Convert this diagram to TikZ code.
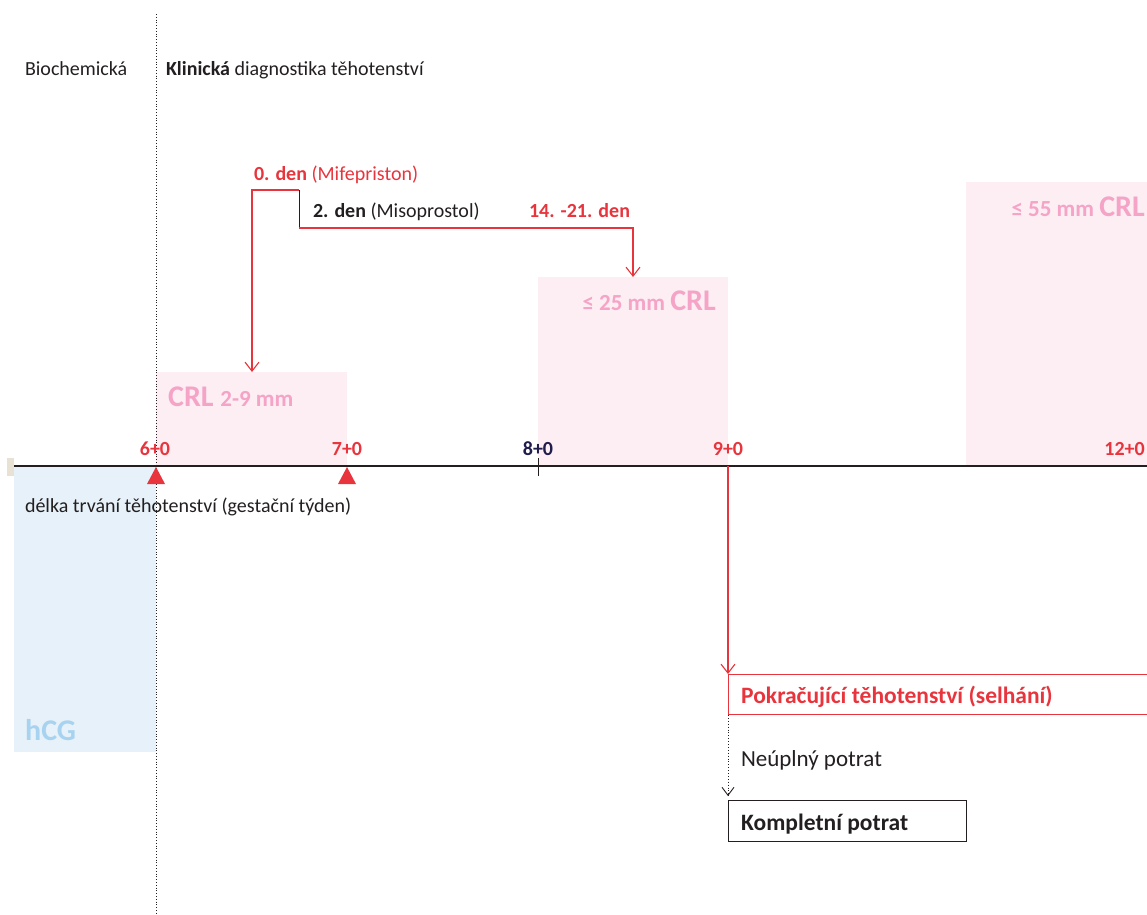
\documentclass[tikz,border=0pt]{standalone}
\usepackage{fontspec}
\setmainfont{Carlito}
\usetikzlibrary{arrows.meta,positioning}
\definecolor{myred}{HTML}{E8343C}
\definecolor{mypink}{HTML}{F5A3C7}
\definecolor{pinkfill}{HTML}{FCEEF3}
\definecolor{bluefill}{HTML}{E6F1F9}
\definecolor{bluetext}{HTML}{A8D3F0}
\definecolor{navy}{HTML}{201C4C}
\definecolor{beige}{HTML}{E8E2D4}
\definecolor{txt}{HTML}{231F20}
\begin{document}
\begin{tikzpicture}[x=1pt,y=-1pt,
  lbl/.style={inner sep=0pt,outer sep=0pt,text=txt,font=\fontsize{20}{24}\selectfont},
  tick/.style={inner sep=0pt,font=\fontsize{20}{24}\selectfont\bfseries,text=myred,anchor=base},
  zone/.style={fill=pinkfill,draw=none},
  crl/.style={inner sep=0pt,text=mypink,font=\bfseries},
  rarrow/.style={draw=myred,line width=1.1pt,-{Straight Barb[length=9pt,width=14pt,line width=1.1pt]}},
  tri/.style={fill=myred,draw=none}]
\useasboundingbox (0,0) rectangle (1147,914);
% zones
\fill[bluefill] (14,466) rectangle (156,752);
\node[zone,minimum width=191pt,minimum height=94pt,anchor=north west,inner sep=0pt] (crl1) at (156,372) {};
\node[zone,minimum width=190pt,minimum height=189pt,anchor=north west,inner sep=0pt] (crl2) at (538,277) {};
\node[zone,minimum width=181pt,minimum height=284pt,anchor=north west,inner sep=0pt] (crl3) at (966,182) {};
\node[crl,anchor=base west] (crl1t) at (168,406) {\fontsize{30}{34}\selectfont CRL \fontsize{23}{26}\selectfont 2-9 mm};
\node[crl,anchor=base east] (crl2t) at (716,310) {\fontsize{23}{26}\selectfont ≤ 25 mm \fontsize{30}{34}\selectfont CRL};
\node[crl,anchor=base east] (crl3t) at (1145,216) {\fontsize{23}{26}\selectfont ≤ 55 mm \fontsize{30}{34}\selectfont CRL};
\node[inner sep=0pt,anchor=base west,text=bluetext,font=\fontsize{30}{34}\selectfont\bfseries] (hcg) at (25,740) {hCG};
% dotted separator
\draw[dotted,line width=0.8pt,txt] (156,14) -- (156,914);
% headers
\node[lbl,anchor=base west] (bio) at (25,75) {Biochemická};
\node[lbl,anchor=base west] (klin) at (166,75) {\textbf{Klinická} diagnostika těhotenství};
% axis
\fill[beige] (7,458) rectangle (14,476);
\draw[line width=1.6pt,txt] (14,466) coordinate (axL) -- (1147,466) coordinate (axR);
\draw[line width=1pt,txt] (538,458) -- (538,476);
\node[tick] (t6) at (155,455) {6+0};
\node[tick] (t7) at (347,455) {7+0};
\node[tick,text=navy] (t8) at (538,455) {8+0};
\node[tick] (t9) at (728,455) {9+0};
\node[tick,anchor=base east] (t12) at (1145,455) {12+0};
\fill[tri] (156,467) -- (147,484) -- (165,484) -- cycle;
\fill[tri] (347,467) -- (338,484) -- (356,484) -- cycle;
\node[lbl,anchor=base west] (dur) at (25,512) {délka trvání těhotenství (gestační týden)};
% protocol
\node[lbl,anchor=base west,text=myred] (d0) at (254,180) {\textbf{0. den} (Mifepriston)};
\node[lbl,anchor=base west] (d2) at (313,217) {\textbf{2. den} (Misoprostol)};
\node[lbl,anchor=base east,text=myred] (d14) at (630,217) {\textbf{14. -21. den}};
\coordinate (j0) at (299,190);
\coordinate (j1) at (252,190);
\coordinate (j2) at (299,228);
\coordinate (j3) at (633,228);
\draw[rarrow] (j0) -- (j1) -- (crl1.north -| j1);
\draw[line width=1pt,txt] (j0) -- (j2);
\draw[rarrow] (j2) -- (j3) -- (crl2.north -| j3);
% outcomes
\node[draw=myred,line width=1pt,minimum width=425pt,minimum height=40pt,anchor=north west,inner sep=0pt] (cont) at (728,674) {};
\node[inner sep=0pt,anchor=base west,text=myred,font=\fontsize{23.5}{28}\selectfont\bfseries] (contt) at (741,703) {Pokračující těhotenství (selhání)};
\node[draw=txt,line width=1pt,minimum width=238pt,minimum height=41pt,anchor=north west,inner sep=0pt] (comp) at (728,800) {};
\node[inner sep=0pt,anchor=base west,text=txt,font=\fontsize{23.5}{28}\selectfont\bfseries] (compt) at (741,830) {Kompletní potrat};
\node[lbl,anchor=base west,font=\fontsize{23}{27}\selectfont] (neu) at (741,766) {Neúplný potrat};
\coordinate (n9) at (728,466);
\draw[rarrow] (n9) -- (cont.north west);
\coordinate (dtip) at ([yshift=4pt]comp.north west);
\draw[dotted,line width=0.9pt,txt] (cont.south west) -- (dtip);
\draw[line width=0.9pt,txt,-{Straight Barb[length=8pt,width=12pt,line width=0.9pt]}] ([yshift=1pt]dtip) -- (dtip);
\end{tikzpicture}
\end{document}
